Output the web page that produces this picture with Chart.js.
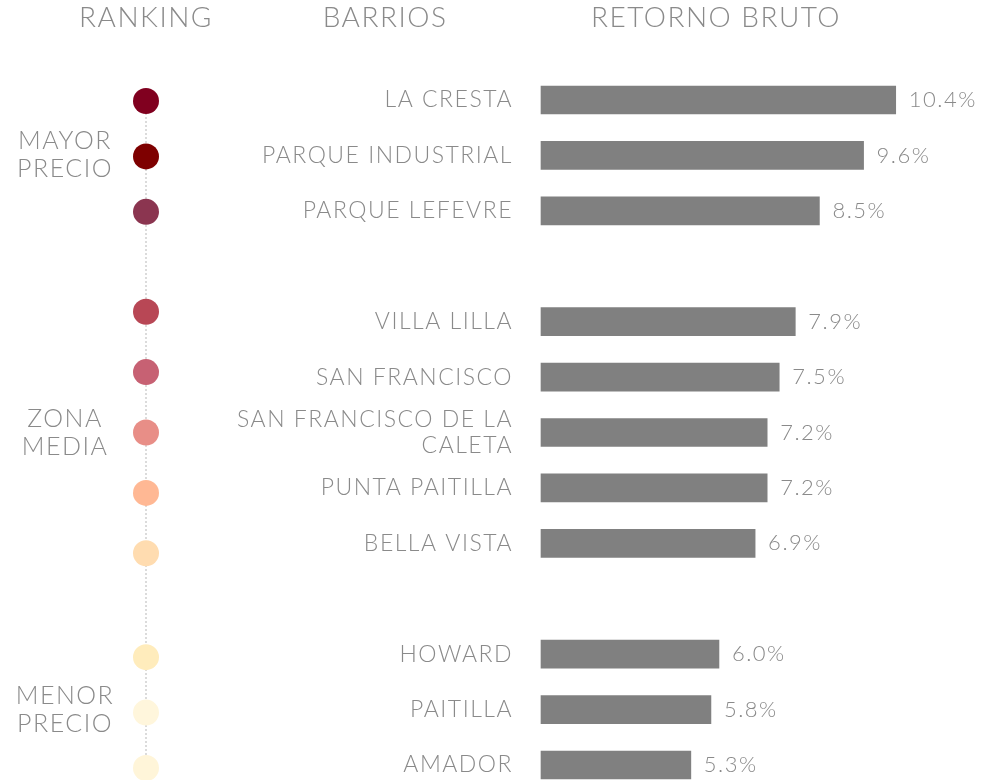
<!DOCTYPE html>
<html>
<head>
<meta charset="utf-8">
<script src="https://cdn.jsdelivr.net/npm/chart.js@4.4.1/dist/chart.umd.min.js"></script>
<style>
  body { margin: 0; background: #fff; }
  .chart-wrap { position: relative; width: 988px; height: 780px; }
</style>
</head>
<body>
<div class="chart-wrap"><canvas id="retornoChart"></canvas></div>
<script>
// Data
const barrios = ['LA CRESTA', 'PARQUE INDUSTRIAL', 'PARQUE LEFEVRE', 'VILLA LILLA', 'SAN FRANCISCO',
    ['SAN FRANCISCO DE LA', 'CALETA'], 'PUNTA PAITILLA', 'BELLA VISTA', 'HOWARD', 'PAITILLA', 'AMADOR'];
const retorno = [10.4, 9.6, 8.5, 7.9, 7.5, 7.2, 7.2, 6.9, 6.0, 5.8, 5.3];
const grupos = [['MAYOR', 'PRECIO'], ['ZONA', 'MEDIA'], ['MENOR', 'PRECIO']];
const grupoSizes = [3, 5, 3];
const dotColors = ['#80001f', '#7e0000', '#8b3550', '#b84755', '#c76173', '#e88e87',
    '#ffb894', '#ffdcb0', '#ffecbc', '#fff6dc', '#fff5d9'];
const headers = ['RANKING', 'BARRIOS', 'RETORNO BRUTO'];

const xMin = 1.57;
const xMax = 12;
const textColor = '#8a8a8a';
const fontFamily = 'Lato, "Open Sans", sans-serif';
// ranking dots are spread a little differently from the bars in each group
const dotStep = [1.0, 1.09, 1.0];
const dotShift = [1, 0, 3];

// Build the category slots, leaving an empty slot between groups
const labels = [];
const values = [];
const slotOf = []; // slot index of each barrio
let k = 0;
grupoSizes.forEach((size, g) => {
    for (let i = 0; i < size; i++) {
        slotOf.push(labels.length);
        labels.push(barrios[k]);
        values.push(retorno[k]);
        k++;
    }
    if (g < grupoSizes.length - 1) {
        labels.push('');
        values.push(null);
    }
});

// Headers, ranking dots, group names and value labels
const decorations = {
    id: 'decorations',
    beforeDraw(chart) {
        chart.ctx.letterSpacing = '1.5px';
    },
    afterDatasetsDraw(chart) {
        const ctx = chart.ctx;
        const y = chart.scales.y;
        const dotX = 146;
        ctx.save();
        ctx.letterSpacing = '1.5px';

        // headers
        ctx.fillStyle = textColor;
        ctx.font = '300 28px ' + fontFamily;
        ctx.textAlign = 'center';
        ctx.textBaseline = 'middle';
        ctx.fillText(headers[0], dotX, 18);
        ctx.fillText(headers[1], 385, 18);
        ctx.fillText(headers[2], 716, 18);

        // dot positions per group, centred on the group's bars
        const dotYs = [];
        let start = 0;
        grupoSizes.forEach((size, g) => {
            const top = y.getPixelForValue(slotOf[start]);
            const bottom = y.getPixelForValue(slotOf[start + size - 1]);
            const mid = (top + bottom) / 2 + dotShift[g];
            const step = (bottom - top) / (size - 1) * dotStep[g];
            for (let i = 0; i < size; i++) {
                dotYs.push(mid + (i - (size - 1) / 2) * step);
            }
            start += size;
        });

        // dotted ranking line
        ctx.strokeStyle = '#cfcfcf';
        ctx.lineWidth = 1.5;
        ctx.setLineDash([2, 2]);
        ctx.beginPath();
        ctx.moveTo(dotX, dotYs[0]);
        ctx.lineTo(dotX, dotYs[dotYs.length - 1]);
        ctx.stroke();
        ctx.setLineDash([]);

        // dots
        dotYs.forEach((dy, i) => {
            ctx.fillStyle = dotColors[i];
            ctx.beginPath();
            ctx.arc(dotX, dy, 13, 0, Math.PI * 2);
            ctx.fill();
        });

        // group names
        ctx.fillStyle = textColor;
        ctx.font = '300 25px ' + fontFamily;
        start = 0;
        grupoSizes.forEach((size, g) => {
            const top = y.getPixelForValue(slotOf[start]);
            const bottom = y.getPixelForValue(slotOf[start + size - 1]);
            const mid = (top + bottom) / 2;
            ctx.fillText(grupos[g][0], 65, mid - 14);
            ctx.fillText(grupos[g][1], 65, mid + 14);
            start += size;
        });

        // value labels
        ctx.textAlign = 'left';
        ctx.font = '300 22px ' + fontFamily;
        chart.getDatasetMeta(0).data.forEach((bar, i) => {
            if (values[i] === null) return;
            ctx.fillText(values[i].toFixed(1) + '%', bar.x + 13, bar.y);
        });
        ctx.restore();
    }
};

const ctx = document.getElementById('retornoChart');
new Chart(ctx, {
    type: 'bar',
    data: {
        labels: labels,
        datasets: [{
            data: values,
            backgroundColor: '#808080',
            barThickness: 28,
            base: xMin,
            clip: false
        }]
    },
    options: {
        indexAxis: 'y',
        responsive: true,
        maintainAspectRatio: false,
        animation: false,
        layout: {
            padding: { top: 100, bottom: 15, left: 0, right: 28 }
        },
        plugins: {
            legend: { display: false },
            tooltip: { enabled: false }
        },
        scales: {
            x: {
                display: false,
                min: xMin,
                max: xMax
            },
            y: {
                offset: false,
                grid: { display: false, drawTicks: false },
                border: { display: false },
                ticks: {
                    autoSkip: false,
                    padding: 28,
                    color: textColor,
                    font: { family: fontFamily, size: 23, weight: '300', lineHeight: 1.1 }
                },
                afterFit(scale) {
                    scale.width = 541;
                    scale.paddingTop = 0;
                    scale.paddingBottom = 0;
                }
            }
        }
    },
    plugins: [decorations]
});
</script>
</body>
</html>
